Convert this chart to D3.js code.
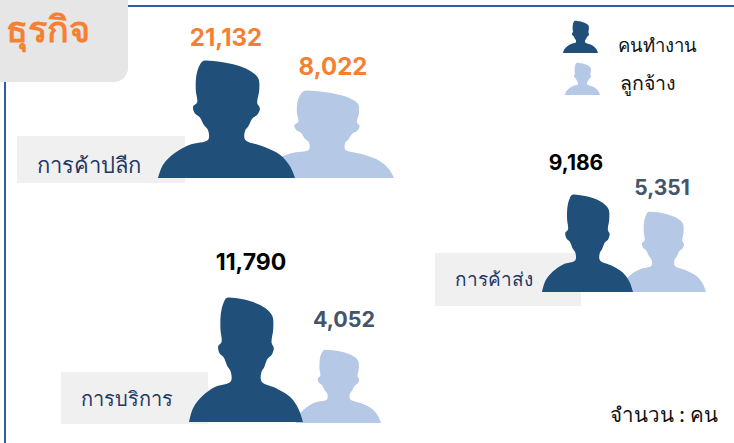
<!DOCTYPE html>
<html>
<head>
<meta charset="utf-8">
<script src="https://cdn.jsdelivr.net/npm/d3@7"></script>
<style>
  html, body { margin: 0; padding: 0; background: #fff; }
  svg { display: block; }
  text { font-family: "Noto Sans", Inter, sans-serif; }
  text.value { font-family: Inter, "Noto Sans", sans-serif; }
</style>
</head>
<body>
<div id="visualization"></div>
<script>
const width = 734;
const height = 443;

// data
const categories = ["การค้าปลีก", "การค้าส่ง", "การบริการ"];
const workers = [21132, 9186, 11790];
const employees = [8022, 5351, 4052];
const seriesNames = ["คนทำงาน", "ลูกจ้าง"];
const titleText = "ธุรกิจ";
const unitText = "จำนวน : คน";

const darkBlue = "#204f7a";
const lightBlue = "#b5c8e6";
const orange = "#f58034";
const slate = "#44546a";
const frameBlue = "#3459a3";

// layout of each group, same order as categories
const groupLayout = [
    { label: [17, 136, 168, 47], labelX: 37, labelY: 173, labelSize: 22,
      dark: [158, 61, 137, 117], light: [260, 91, 134, 87],
      darkText: [226, 46], lightText: [333, 75], darkColor: orange, lightColor: orange,
      darkSize: 24, lightSize: 24 },
    { label: [435, 253, 146, 53], labelX: 455, labelY: 286, labelSize: 19,
      dark: [542, 195, 91, 97], light: [620, 212, 86, 80],
      darkText: [576, 170], lightText: [662, 195], darkColor: "#000", lightColor: slate,
      darkSize: 21, lightSize: 21 },
    { label: [61, 372, 147, 52], labelX: 81, labelY: 406, labelSize: 20,
      dark: [189, 298, 114, 124], light: [296, 350, 85, 73],
      darkText: [251, 270], lightText: [344, 327], darkColor: "#000", lightColor: slate,
      darkSize: 23, lightSize: 21.5 }
];

// outline of the person, drawn in its own 410 x 352 space
const outline = [
    [410, 352], [395, 317], [365, 282], [315, 257], [261, 237], [261, 209], [270, 197],
    [283, 172], [297, 162], [305, 142], [297, 127], [303, 87], [300, 52], [275, 29],
    [225, 10], [165, 0], [135, 0], [125, 12], [115, 42], [113, 87], [117, 125],
    [105, 137], [110, 157], [125, 169], [137, 192], [150, 209], [150, 237], [95, 252],
    [50, 277], [15, 312], [0, 352]
];

const svg = d3.select("#visualization")
    .append("svg")
    .attr("width", width)
    .attr("height", height);

function drawPerson(box, color) {
    const x = d3.scaleLinear().domain([0, 410]).range([box[0], box[0] + box[2]]);
    const y = d3.scaleLinear().domain([0, 352]).range([box[1], box[1] + box[3]]);
    const line = d3.line()
        .x(d => x(d[0]))
        .y(d => y(d[1]))
        .curve(d3.curveCatmullRom.alpha(0.5));
    svg.append("path")
        .attr("d", line(outline) + "Z")
        .attr("fill", color);
}

// frame
svg.append("path")
    .attr("d", d3.line()([[5, height], [5, 6], [width, 6]]))
    .attr("fill", "none")
    .attr("stroke", frameBlue)
    .attr("stroke-width", 2);

// header box, runs off the left edge
svg.append("rect")
    .attr("x", -20)
    .attr("y", -20)
    .attr("width", 148)
    .attr("height", 102)
    .attr("rx", 14)
    .attr("fill", "#e6e6e6");

svg.append("text")
    .attr("x", 90)
    .attr("y", 42)
    .attr("text-anchor", "end")
    .attr("font-size", 36)
    .attr("font-weight", 700)
    .attr("fill", orange)
    .text(titleText);

// groups
const fmt = d3.format(",");
categories.forEach((name, i) => {
    const g = groupLayout[i];

    svg.append("rect")
        .attr("x", g.label[0])
        .attr("y", g.label[1])
        .attr("width", g.label[2])
        .attr("height", g.label[3])
        .attr("fill", "#f0f0f0");

    svg.append("text")
        .attr("x", g.labelX)
        .attr("y", g.labelY)
        .attr("font-size", g.labelSize)
        .attr("fill", "#1f3864")
        .text(name);

    drawPerson(g.light, lightBlue);
    drawPerson(g.dark, darkBlue);

    svg.append("text")
        .attr("class", "value")
        .attr("x", g.darkText[0])
        .attr("y", g.darkText[1])
        .attr("text-anchor", "middle")
        .attr("font-size", g.darkSize)
        .attr("font-weight", 700)
        .attr("fill", g.darkColor)
        .text(fmt(workers[i]));

    svg.append("text")
        .attr("class", "value")
        .attr("x", g.lightText[0])
        .attr("y", g.lightText[1])
        .attr("text-anchor", "middle")
        .attr("font-size", g.lightSize)
        .attr("font-weight", 700)
        .attr("fill", g.lightColor)
        .text(fmt(employees[i]));
});

// legend
const legendBoxes = [[563, 21, 35, 32], [565, 63, 35, 32]];
const legendText = [[618, 52, 18.5], [620, 90, 19.5]];
seriesNames.forEach((name, i) => {
    drawPerson(legendBoxes[i], i === 0 ? darkBlue : lightBlue);
    svg.append("text")
        .attr("x", legendText[i][0])
        .attr("y", legendText[i][1])
        .attr("font-size", legendText[i][2])
        .attr("font-weight", 500)
        .attr("fill", "#111")
        .text(name);
});

svg.append("text")
    .attr("x", 610)
    .attr("y", 422)
    .attr("font-size", 20.5)
    .attr("font-weight", 500)
    .attr("fill", "#111")
    .text(unitText);
</script>
</body>
</html>
